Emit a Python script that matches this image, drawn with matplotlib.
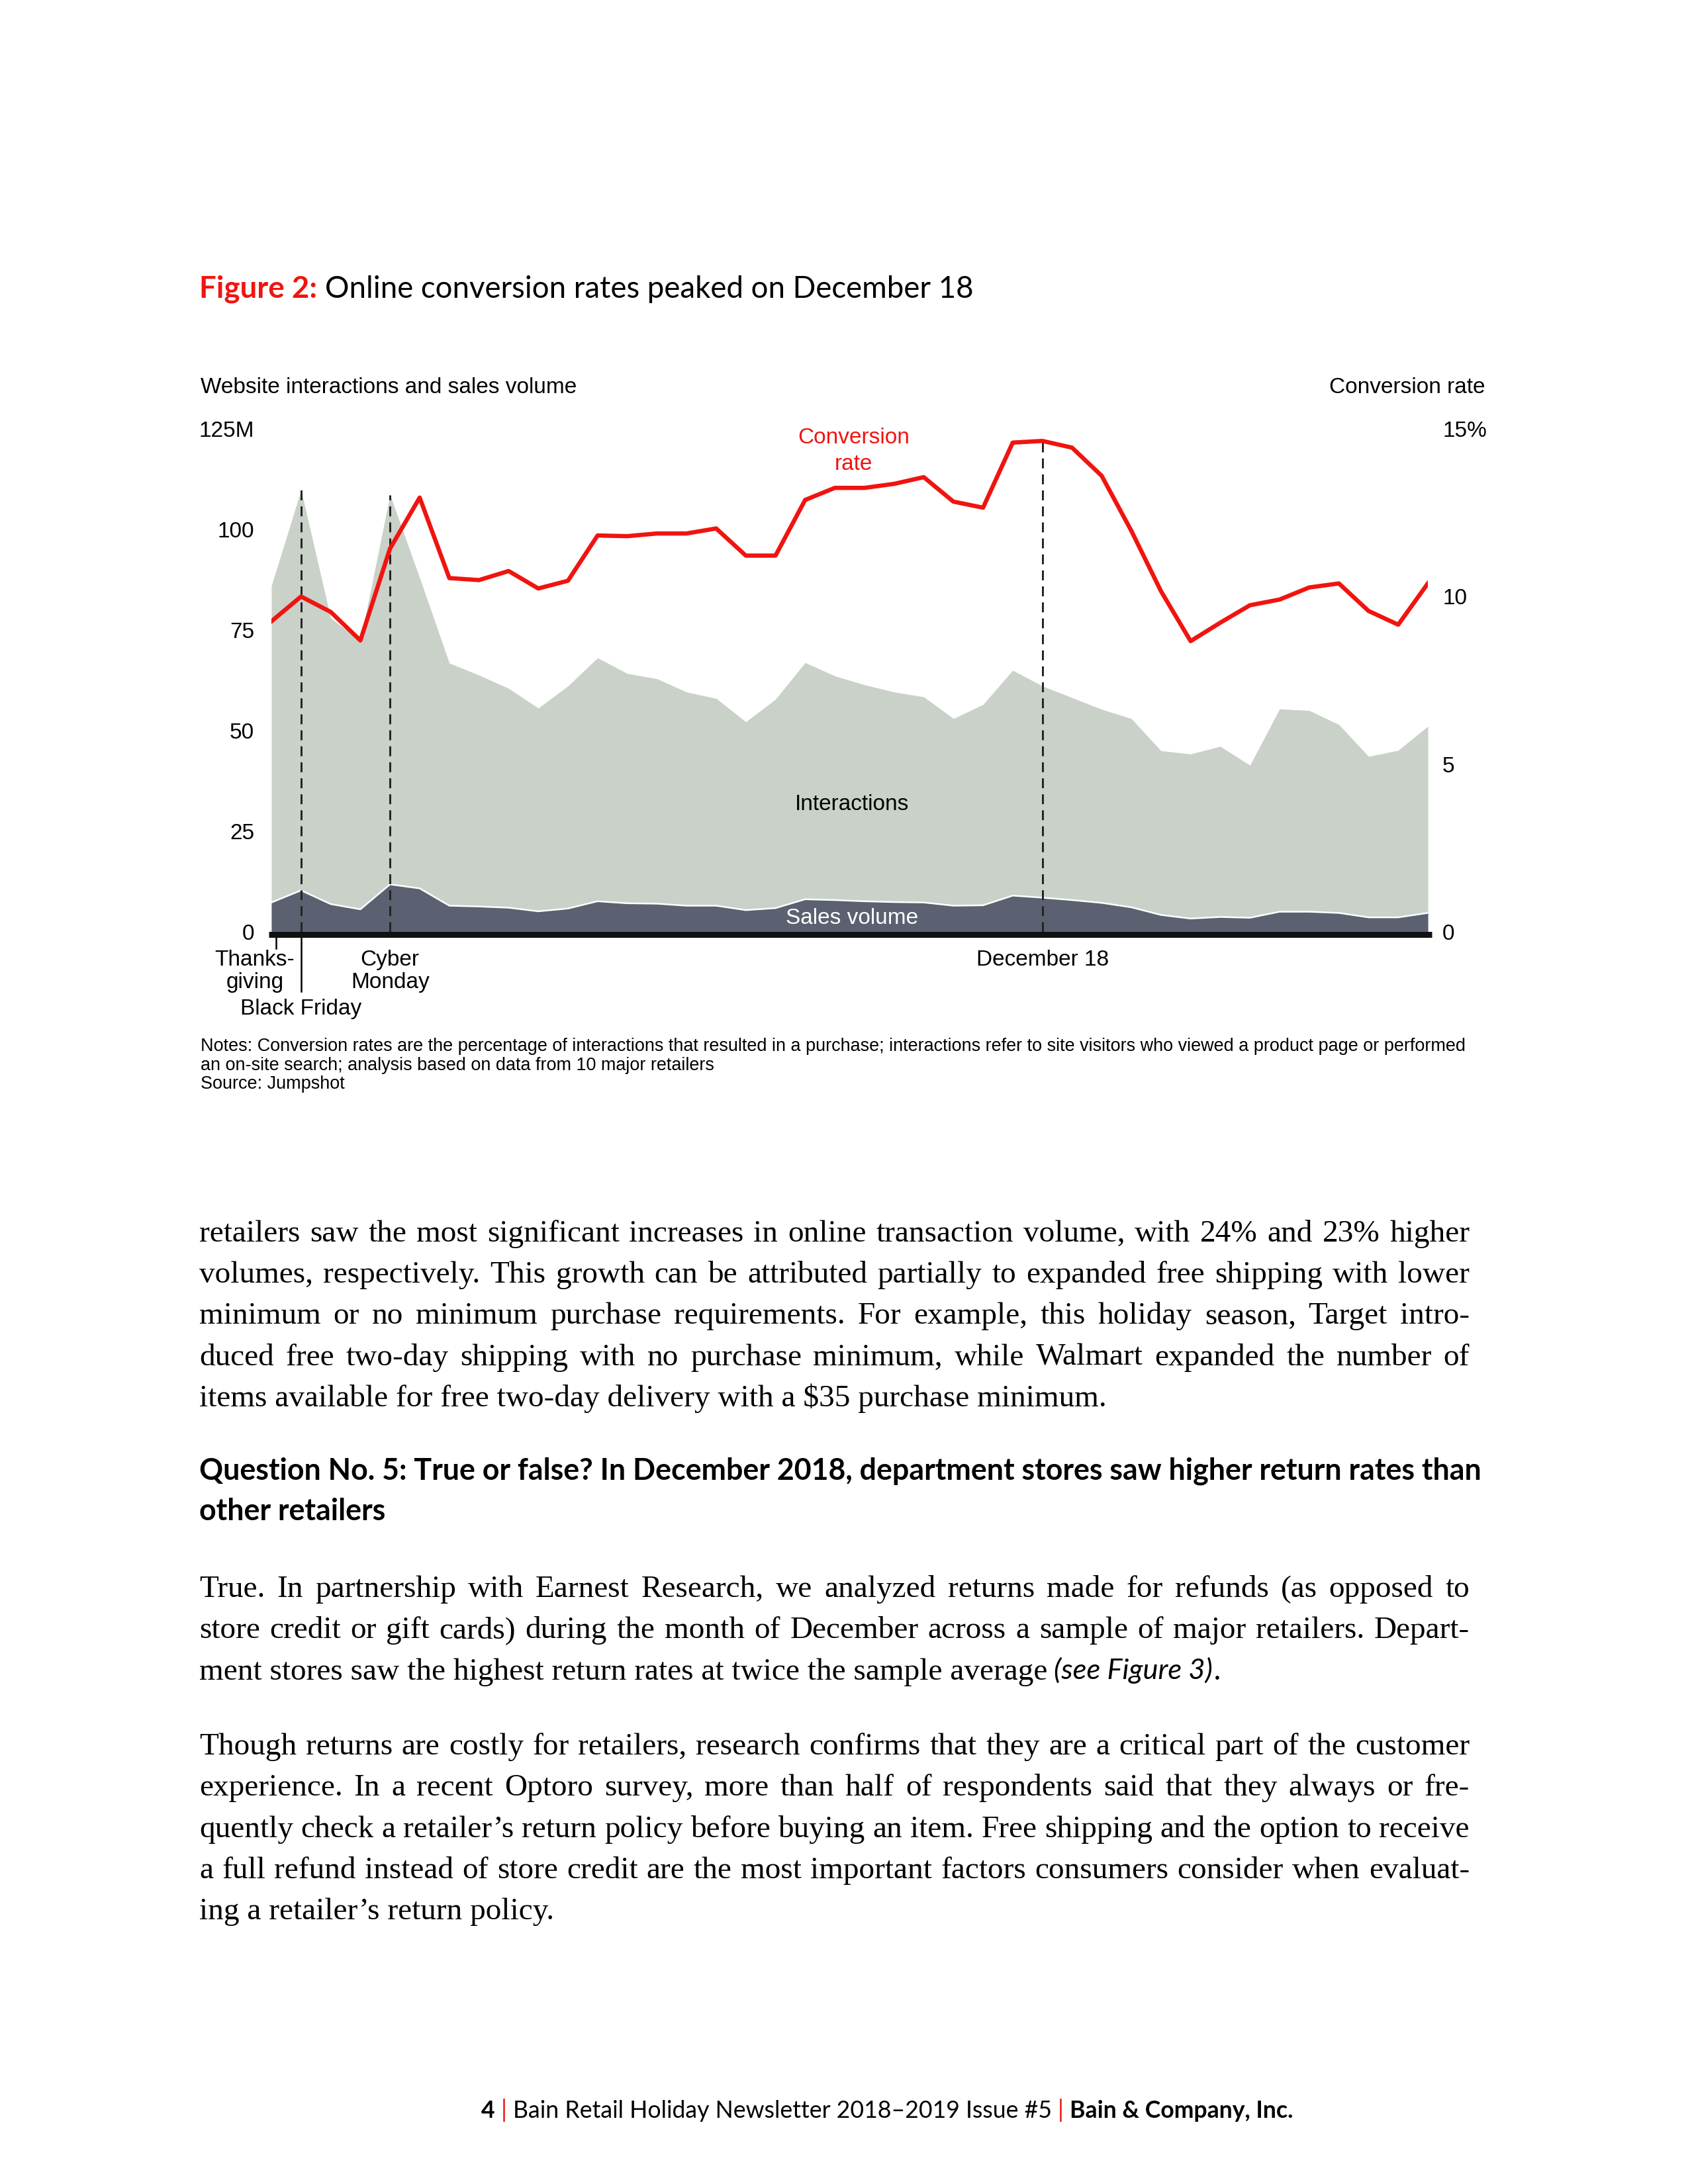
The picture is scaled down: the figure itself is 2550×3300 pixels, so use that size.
import matplotlib.pyplot as plt
from matplotlib import transforms

plt.rcParams['font.family'] = ['Liberation Sans', 'DejaVu Sans']
plt.rcParams['lines.scale_dashes'] = False

# one value per day, Thanksgiving (Nov 22) through Dec 31, 2018
days = list(range(40))
interactions = [86.0, 109.8, 78.0, 72.3, 108.6, 88.0, 66.8, 63.8, 60.5, 55.6,
                61.1, 68.1, 64.2, 62.9, 59.6, 58.0, 52.2, 57.8, 66.9, 63.6,
                61.4, 59.6, 58.4, 53.0, 56.5, 65.0, 61.1, 58.2, 55.3, 53.0,
                45.0, 44.2, 46.1, 41.4, 55.4, 55.0, 51.5, 43.6, 45.1, 51.1]
sales_volume = [7.3, 10.3, 6.9, 5.6, 11.8, 10.8, 6.5, 6.3, 6.0, 5.1,
                5.8, 7.6, 7.1, 7.0, 6.5, 6.5, 5.4, 5.9, 8.1, 7.9,
                7.6, 7.4, 7.3, 6.5, 6.6, 9.0, 8.5, 7.9, 7.2, 6.1,
                4.2, 3.3, 3.7, 3.5, 5.0, 5.0, 4.7, 3.6, 3.6, 4.7]
conversion = [9.26, 10.0, 9.54, 8.69, 11.43, 12.95, 10.55, 10.49, 10.76, 10.24,
              10.47, 11.82, 11.80, 11.88, 11.88, 12.03, 11.22, 11.22, 12.88, 13.24,
              13.24, 13.36, 13.56, 12.83, 12.65, 14.59, 14.64, 14.44, 13.60, 11.96,
              10.16, 8.67, 9.22, 9.74, 9.91, 10.27, 10.39, 9.57, 9.16, 10.39]

left_ticks = [0, 25, 50, 75, 100, 125]
left_labels = ['0', '25', '50', '75', '100', '125M']
right_ticks = [0, 5, 10, 15]
right_labels = ['0', '5', '10', '15%']
event_days = [1, 4, 26]  # Black Friday, Cyber Monday, December 18

notes = ["Notes: Conversion rates are the percentage of interactions that resulted in a purchase; "
         "interactions refer to site visitors who viewed a product page or performed",
         "an on-site search; analysis based on data from 10 major retailers",
         "Source: Jumpshot"]

para1 = ["retailers saw the most significant increases in online transaction volume, with 24% and 23% higher",
         "volumes, respectively. This growth can be attributed partially to expanded free shipping with lower",
         "minimum or no minimum purchase requirements. For example, this holiday season, Target intro-",
         "duced free two-day shipping with no purchase minimum, while Walmart expanded the number of",
         "items available for free two-day delivery with a $35 purchase minimum."]
heading = ["Question No. 5: True or false? In December 2018, department stores saw higher return rates than",
           "other retailers"]
para2 = ["True. In partnership with Earnest Research, we analyzed returns made for refunds (as opposed to",
         "store credit or gift cards) during the month of December across a sample of major retailers. Depart-",
         "ment stores saw the highest return rates at twice the sample average"]
para3 = ["Though returns are costly for retailers, research confirms that they are a critical part of the customer",
         "experience. In a recent Optoro survey, more than half of respondents said that they always or fre-",
         "quently check a retailer\u2019s return policy before buying an item. Free shipping and the option to receive",
         "a full refund instead of store credit are the most important factors consumers consider when evaluat-",
         "ing a retailer\u2019s return policy."]

RED = '#F01410'
W, H = 2550, 3300
fig = plt.figure(figsize=(W / 300, H / 300), dpi=300)
renderer = fig.canvas.get_renderer()


def fx(px):
    return px / W


def fy(py):
    return 1 - py / H


def wid(s, style):
    t = fig.text(0, 0, s, **style)
    w = t.get_window_extent(renderer).width
    t.remove()
    return w


def space(style):
    return wid('n n', style) - wid('nn', style)


def run(parts, x, y):
    texts = []
    for text, style, sp in parts:
        if sp:
            x += space(style)
        t = fig.text(fx(x), fy(y), text, va='baseline', **style)
        x += t.get_window_extent(renderer).width
        texts.append(t)
    return x, texts


def fitted_run(parts, x, y, target):
    end, texts = run(parts, x, y)
    k = target / (end - x)
    for t in texts:
        t.remove()
    run([(t, {**st, 'fontsize': st['fontsize'] * k}, sp) for t, st, sp in parts], x, y)
    return k


def justify(line, y, style, x0, x1):
    words = line.split(' ')
    ws = [wid(w, style) for w in words]
    gap = (x1 - x0 - sum(ws)) / (len(words) - 1)
    x = x0
    for w, wd in zip(words, ws):
        fig.text(fx(x), fy(y), w, va='baseline', **style)
        x += wd + gap


# ---------------- title
futura = 'Lato'
fitted_run([("Figure 2:", dict(family=futura, fontweight='bold', color=RED, fontsize=12), False),
            ("Online conversion rates peaked on December 18", dict(family=futura, fontsize=12), True)],
           301, 450, 1169)

# ---------------- chart
ax = fig.add_axes([fx(410), fy(1408), (2157 - 410) / W, (1408 - 648) / H])
ax.fill_between(days, interactions, color='#C9D1C9', lw=0, zorder=1)
ax.fill_between(days, sales_volume, color='#5B6170', lw=0, zorder=2)
ax.plot(days, sales_volume, color='white', lw=0.6, zorder=2.5)
for d in event_days:
    top = max(interactions[d], conversion[d] * 125 / 15)
    ax.plot([d, d], [0, top], color='#222222', lw=0.7, dashes=(3.6, 2.2), zorder=3)
ax.set_xlim(0, 39)
ax.set_ylim(0, 125)
ax.set_xticks([])
ax.set_yticks(left_ticks, left_labels)
ax.tick_params(axis='y', length=0, pad=6.2, labelsize=8)
for s in ax.spines.values():
    s.set_visible(False)

ax2 = ax.twinx()
ax2.plot(days, conversion, color=RED, lw=1.55, zorder=5)
ax2.set_ylim(0, 15)
ax2.set_yticks(right_ticks, right_labels)
ax2.tick_params(axis='y', length=0, pad=5.3, labelsize=8)
for s in ax2.spines.values():
    s.set_visible(False)

blend = transforms.blended_transform_factory(ax.transData, fig.transFigure)
ax.plot([-0.09, 39.13], [fy(1412.5)] * 2, transform=blend, color='#111111', lw=2.16,
        solid_capstyle='butt', clip_on=False, zorder=4)
ax.plot([0.15, 0.15], [fy(1417), fy(1433)], transform=blend, color='black', lw=0.6, clip_on=False)
ax.plot([1, 1], [fy(1417), fy(1498)], transform=blend, color='black', lw=0.6, clip_on=False)

for text, x, y in [("Thanks-", -0.56, 1459), ("giving", -0.56, 1493), ("Cyber", 4, 1459),
                   ("Monday", 4, 1493), ("December 18", 26, 1459), ("Black Friday", 1, 1533)]:
    ax.text(x, fy(y), text, transform=blend, ha='center', va='baseline', fontsize=8)

ax.text(19.64, fy(670), "Conversion", transform=blend, ha='center', va='baseline', fontsize=8, color=RED)
ax.text(19.64, fy(710), "rate", transform=blend, ha='center', va='baseline', fontsize=8, color=RED)
ax.text(19.58, fy(1215), "Interactions", transform=blend, ha='center', va='center', fontsize=8, zorder=6)
ax.text(19.58, fy(1387), "Sales volume", transform=blend, ha='center', va='center', fontsize=8,
        color='white', zorder=6)

fig.text(fx(303), fy(594), "Website interactions and sales volume", fontsize=8, va='baseline')
fig.text(fx(2243), fy(594), "Conversion rate", fontsize=8, va='baseline', ha='right')

# notes
note_style = dict(fontsize=6)
k = fitted_run([(notes[0], note_style, False)], 303, 1588, 1914)
for line, y in zip(notes[1:], [1617, 1645]):
    run([(line, dict(fontsize=6 * k), False)], 303, y)

# ---------------- body text
LEFT, RIGHT, LEAD = 301, 2220, 62.25
base = dict(family='Liberation Serif', parse_math=False, fontsize=11.2)
justified = para1[:-1] + para2[:-1] + para3[:-1]
natural = [sum(wid(w, base) for w in ln.split(' ')) + (len(ln.split(' ')) - 1) * space(base)
           for ln in justified]
body = {**base, 'fontsize': 11.2 * (RIGHT - LEFT) / max(natural)}

for para, y0 in [(para1, 1876), (para2, 2413), (para3, 2651)]:
    for i, line in enumerate(para):
        y = y0 + i * LEAD
        if i < len(para) - 1:
            justify(line, y, body, LEFT, RIGHT)
        elif para is para2:
            run([(line, body, False),
                 ("(see Figure 3)", dict(family=futura, style='italic', fontsize=body['fontsize'] * 0.92), True),
                 (".", body, False)], LEFT, y)
        else:
            run([(line, body, False)], LEFT, y)

head_style = dict(family=futura, fontweight='bold', fontsize=11.5)
k = fitted_run([(heading[0], head_style, False)], 301, 2236, 1935)
run([(heading[1], {**head_style, 'fontsize': 11.5 * k}, False)], 301, 2297)

# ---------------- footer
fs = dict(family=futura, fontsize=9)
fitted_run([("4", {**fs, 'fontweight': 'bold'}, False),
            ("|", {**fs, 'color': RED}, True),
            ("Bain Retail Holiday Newsletter 2018\u20132019 Issue #5", fs, True),
            ("|", {**fs, 'color': RED}, True),
            ("Bain & Company, Inc.", {**fs, 'fontweight': 'bold'}, True)],
           727, 3200, 1227)

fig.savefig('out.png', dpi=300, facecolor='white')
